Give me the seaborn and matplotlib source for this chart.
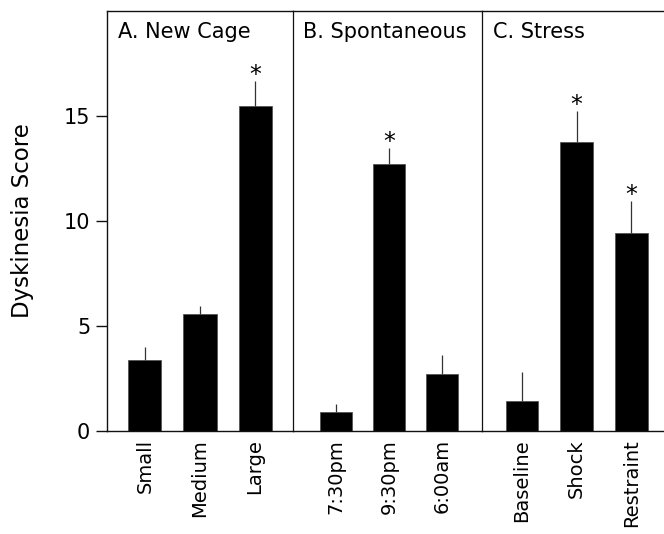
import matplotlib
matplotlib.use("Agg")
import matplotlib.pyplot as plt
import seaborn as sns
import pandas as pd

sns.set_style("white")
plt.rcParams['font.family'] = ['DejaVu Sans']
plt.rcParams['text.color'] = 'black'
plt.rcParams['xtick.color'] = 'black'
plt.rcParams['ytick.color'] = 'black'
plt.rcParams['axes.labelcolor'] = 'black'

# ---- data ----
cage_labels = ['Small', 'Medium', 'Large']
cage_means = [3.38, 5.57, 15.48]
cage_err = [0.63, 0.38, 1.19]
cage_sig = [False, False, True]

spont_labels = ['7:30pm', '9:30pm', '6:00am']
spont_means = [0.89, 12.70, 2.73]
spont_err = [0.38, 0.79, 0.87]
spont_sig = [False, True, False]

stress_labels = ['Baseline', 'Shock', 'Restraint']
stress_means = [1.44, 13.78, 9.44]
stress_err = [1.37, 1.46, 1.51]
stress_sig = [False, True, True]

panel_titles = ['A. New Cage', 'B. Spontaneous', 'C. Stress']
y_ticks = [0, 5, 10, 15]

panels = [
    (cage_labels, cage_means, cage_err, cage_sig),
    (spont_labels, spont_means, spont_err, spont_sig),
    (stress_labels, stress_means, stress_err, stress_sig),
]

W, H = 664, 534
fig = plt.figure(figsize=(W / 100, H / 100), dpi=100)

bottom_px, top_px = 431, 11
edges_px = [107, 293, 482, 664]
xlims = [(-0.69, 2.69), (-0.80, 2.75), (-0.73, 2.60)]

line_col = '#111111'
axes = []
for i, (labels, means, errs, sig) in enumerate(panels):
    l = edges_px[i] / W
    w = (edges_px[i + 1] - edges_px[i]) / W
    b = (H - bottom_px) / H
    h = (bottom_px - top_px) / H
    ax = fig.add_axes([l, b, w, h])
    df = pd.DataFrame({'cond': labels, 'score': means})
    sns.barplot(data=df, x='cond', y='score', order=labels, color='black',
                width=0.6, errorbar=None, edgecolor='#555555', linewidth=0.6,
                saturation=1, ax=ax)
    ax.errorbar(range(len(labels)), means,
                yerr=[[0] * len(errs), errs], fmt='none',
                ecolor='#333333', elinewidth=0.9, capsize=0)
    for k, s in enumerate(sig):
        if s:
            ax.text(k, means[k] + errs[k] - 0.3, '*', ha='center', va='bottom',
                    fontsize=17)
    ax.set_xlim(*xlims[i])
    ax.set_ylim(0, 20)
    ax.set_xlabel('')
    ax.set_xticks(range(len(labels)))
    ax.set_xticklabels(labels, rotation=90, fontsize=14)
    ax.tick_params(axis='x', length=0, pad=6)
    ax.text(0.06 if i != 1 else 0.053, 0.975, panel_titles[i],
            transform=ax.transAxes, ha='left', va='top', fontsize=15)
    for sp in ['top', 'bottom', 'left', 'right']:
        ax.spines[sp].set_visible(True)
        ax.spines[sp].set_color(line_col)
        ax.spines[sp].set_linewidth(1.0)
    ax.spines['right'].set_visible(False)
    if i == 0:
        ax.set_yticks(y_ticks)
        ax.set_yticklabels([str(t) for t in y_ticks], fontsize=15)
        ax.tick_params(axis='y', direction='out', length=8, width=1.0,
                       color=line_col, pad=4, left=True)
        ax.set_ylabel('Dyskinesia Score', fontsize=16.5, labelpad=14)
        ax.yaxis.set_label_coords(-0.39, 0.5)
    else:
        ax.set_yticks([])
        ax.set_ylabel('')
        ax.spines['left'].set_linewidth(0.9)
    axes.append(ax)

fig.savefig('out.png', dpi=100)
